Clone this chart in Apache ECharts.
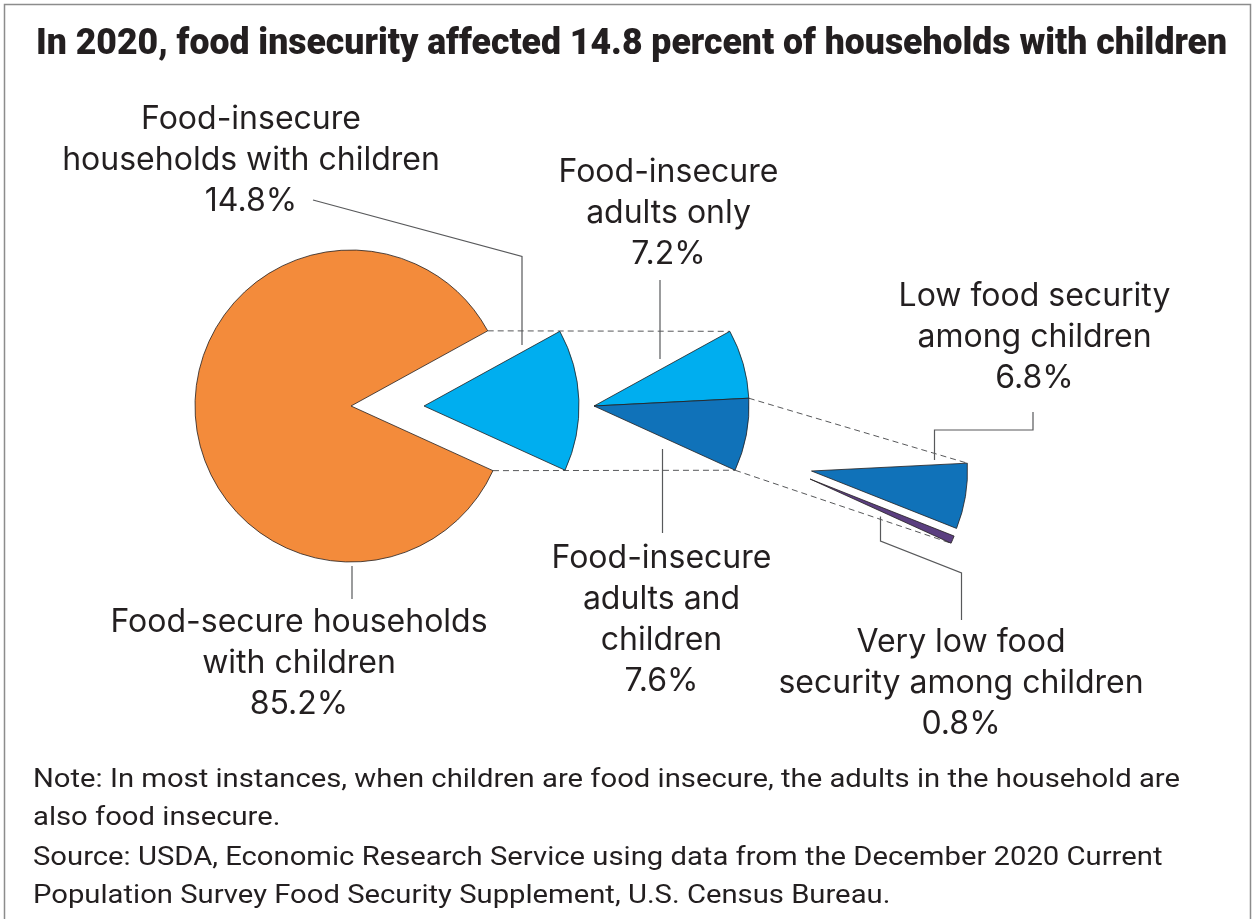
<!DOCTYPE html>
<html>
<head>
<meta charset="utf-8">
<script src="https://cdn.jsdelivr.net/npm/echarts@6/dist/echarts.min.js"></script>
<style>
html,body{margin:0;padding:0;background:#ffffff;}
#chart{width:1255px;height:919px;}
</style>
</head>
<body>
<div id="chart"></div>
<script>
// ---------------- DATA ----------------
const titleText = 'In 2020, food insecurity affected 14.8 percent of households with children';
const mainCategories = ['Food-secure households with children', 'Food-insecure households with children'];
const mainValues = [85.2, 14.8];
const insecureCategories = ['Food-insecure adults only', 'Food-insecure adults and children'];
const insecureValues = [7.2, 7.6];
const childCategories = ['Low food security among children', 'Very low food security among children'];
const childValues = [6.8, 0.8];
const labelWraps = {
  'Food-secure households with children': ['Food-secure households', 'with children'],
  'Food-insecure households with children': ['Food-insecure', 'households with children'],
  'Food-insecure adults only': ['Food-insecure', 'adults only'],
  'Food-insecure adults and children': ['Food-insecure', 'adults and', 'children'],
  'Low food security among children': ['Low food security', 'among children'],
  'Very low food security among children': ['Very low food', 'security among children']
};
const noteLines = [
  'Note: In most instances, when children are food insecure, the adults in the household are',
  'also food insecure.',
  'Source: USDA, Economic Research Service using data from the December 2020 Current',
  'Population Survey Food Security Supplement, U.S. Census Bureau.'
];

// ---------------- STYLE / LAYOUT ----------------
const COLORS = { secure: '#F38B3B', insecure: '#00AEEF', adultsOnly: '#00AEEF', adultsChildren: '#1072B9', low: '#1072B9', veryLow: '#5B3F80' };
const TEXT = '#231f20';
const LINE = '#58595b';
const FONT = 'Inter';
const TOTAL = 100;
const DEG = 360 / TOTAL;
const TOP_ANGLE = 28.8;              // upper edge of the insecure wedge (degrees)
const C_MAIN = [351, 406], R_MAIN = 156;
const C_EXPL = [424, 406];
const C_SPLIT = [594, 406];
const C_CHILD = [811.5, 471];
const C_VLOW = [810, 479];
const R = 155;

const wedgeBottom = TOP_ANGLE - mainValues[1] * DEG;
const splitAngle = TOP_ANGLE - insecureValues[0] * DEG;
const childBottom = splitAngle - (childValues[0] + childValues[1]) * DEG;

function pt(c, r, deg) {
  const a = deg * Math.PI / 180;
  return [c[0] + r * Math.cos(a), c[1] - r * Math.sin(a)];
}
const clear = { color: 'rgba(0,0,0,0)', borderWidth: 0 };
function solid(color) { return { color: color, borderColor: '#231f20', borderWidth: 0.8 }; }
const basePie = {
  type: 'pie', silent: true, clockwise: true, animation: false,
  label: { show: false }, labelLine: { show: false }, emphasis: { disabled: true },
  avoidLabelOverlap: false
};

const series = [
  Object.assign({}, basePie, {
    center: C_MAIN, radius: [0, R_MAIN], startAngle: TOP_ANGLE,
    data: [
      { name: 'gap', value: mainValues[1], itemStyle: clear },
      { name: mainCategories[0], value: mainValues[0], itemStyle: solid(COLORS.secure) }
    ]
  }),
  Object.assign({}, basePie, {
    center: C_EXPL, radius: [0, R], startAngle: TOP_ANGLE,
    data: [
      { name: mainCategories[1], value: mainValues[1], itemStyle: solid(COLORS.insecure) },
      { name: 'rest', value: mainValues[0], itemStyle: clear }
    ]
  }),
  Object.assign({}, basePie, {
    center: C_SPLIT, radius: [0, R], startAngle: TOP_ANGLE,
    data: [
      { name: insecureCategories[0], value: insecureValues[0], itemStyle: solid(COLORS.adultsOnly) },
      { name: insecureCategories[1], value: insecureValues[1], itemStyle: solid(COLORS.adultsChildren) },
      { name: 'rest', value: mainValues[0], itemStyle: clear }
    ]
  }),
  Object.assign({}, basePie, {
    center: C_CHILD, radius: [0, R + 1], startAngle: splitAngle,
    data: [
      { name: childCategories[0], value: childValues[0], itemStyle: solid(COLORS.low) },
      { name: 'rest', value: TOTAL - childValues[0], itemStyle: clear }
    ]
  }),
  Object.assign({}, basePie, {
    center: C_VLOW, radius: [0, R], startAngle: splitAngle,
    data: [
      { name: 'skip', value: childValues[0], itemStyle: clear },
      { name: childCategories[1], value: childValues[1], itemStyle: solid(COLORS.veryLow) },
      { name: 'rest', value: TOTAL - childValues[0] - childValues[1], itemStyle: clear }
    ]
  })
];

// dashed connectors computed from the slice geometry
function dashed(p1, p2) {
  return { type: 'line', z: 1, silent: true,
    shape: { x1: p1[0], y1: p1[1], x2: p2[0], y2: p2[1] },
    style: { stroke: LINE, lineWidth: 1, lineDash: [6, 4] } };
}
const connectors = [
  dashed(pt(C_MAIN, R_MAIN, TOP_ANGLE), pt(C_SPLIT, R, TOP_ANGLE)),
  dashed(pt(C_MAIN, R_MAIN, wedgeBottom), pt(C_SPLIT, R, wedgeBottom)),
  dashed(pt(C_SPLIT, R, splitAngle), pt(C_CHILD, R + 1, splitAngle)),
  dashed(pt(C_SPLIT, R, wedgeBottom), pt(C_VLOW, R, childBottom))
];

function leader(points) {
  return { type: 'polyline', z: 20, silent: true, shape: { points: points },
    style: { stroke: LINE, lineWidth: 1.2, fill: null } };
}
const leaders = [
  leader([[313, 200], [522, 256.5], [522, 345]]),
  leader([[660, 280], [660, 359]]),
  leader([[1033, 412], [1033, 430], [934.5, 430], [934.5, 460]]),
  leader([[662.5, 449], [662.5, 533]]),
  leader([[880.5, 516.5], [880.5, 541], [961.5, 573], [961.5, 620]]),
  leader([[352, 566], [352, 599]])
];

function pct(v) { return v.toFixed(1) + '%'; }
function label(cat, val, x, y) {
  return { type: 'text', z: 30, silent: true, x: x, y: y,
    style: { text: labelWraps[cat].concat([pct(val)]).join('\n'), x: 0, y: 0,
      align: 'center', verticalAlign: 'middle', fontFamily: FONT, fontSize: 32,
      lineHeight: 41, fill: TEXT } };
}
const labels = [
  label(mainCategories[1], mainValues[1], 251, 160),
  label(insecureCategories[0], insecureValues[0], 668.5, 213.5),
  label(childCategories[0], childValues[0], 1034.5, 337),
  label(insecureCategories[1], insecureValues[1], 661.5, 620),
  label(childCategories[1], childValues[1], 961, 683.5),
  label(mainCategories[0], mainValues[0], 299, 663)
];

function measure(text, font) {
  const ctx = document.createElement('canvas').getContext('2d');
  ctx.font = font;
  return ctx.measureText(text).width;
}
const titleFont = '900 37px Roboto';
const titleScale = 1191 / measure(titleText, titleFont);
const titleEl = { type: 'text', z: 30, silent: true, x: 36, y: 45, scaleX: titleScale,
  style: { text: titleText, x: 0, y: 0, align: 'left', verticalAlign: 'middle',
    fontFamily: 'Roboto', fontWeight: 900, fontSize: 37, fill: TEXT } };

const noteFont = '26px Roboto';
const noteScale = 1147 / measure(noteLines[0], noteFont);
const noteYs = [780, 818.5, 858, 896.5];
const notes = noteLines.map(function (t, i) {
  return { type: 'text', z: 30, silent: true, x: 33, y: noteYs[i], scaleX: noteScale,
    style: { text: t, x: 0, y: 0, align: 'left', verticalAlign: 'middle',
      fontFamily: 'Roboto', fontSize: 26, fill: TEXT } };
});

const frame = { type: 'rect', z: 0, silent: true,
  shape: { x: 4.5, y: 4.5, width: 1246, height: 940 },
  style: { fill: null, stroke: '#8c8c8c', lineWidth: 1.5 } };

const chart = echarts.init(document.getElementById('chart'), null, { renderer: 'canvas' });
chart.setOption({
  backgroundColor: '#ffffff',
  animation: false,
  series: series,
  graphic: { elements: [frame].concat(connectors, leaders, labels, [titleEl], notes) }
});
</script>
</body>
</html>
